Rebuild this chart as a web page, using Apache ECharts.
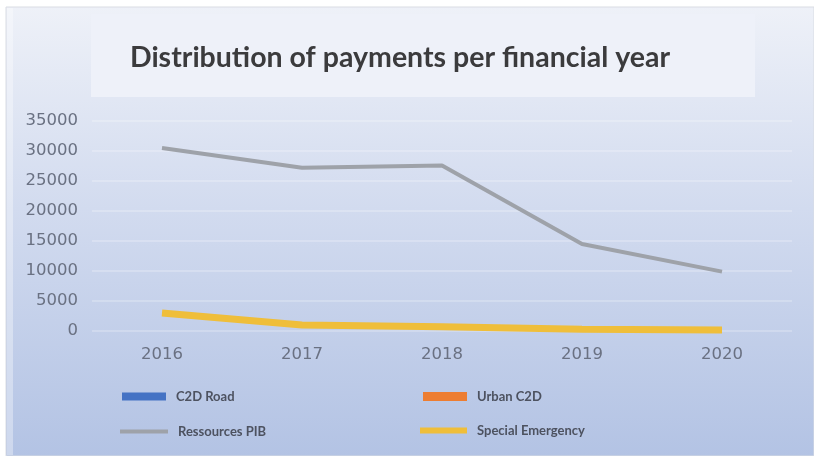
<!DOCTYPE html>
<html>
<head>
<meta charset="utf-8">
<script src="https://cdn.jsdelivr.net/npm/echarts@6/dist/echarts.min.js"></script>
<style>
  html, body { margin: 0; padding: 0; background: #ffffff; }
  #chart { width: 814px; height: 456px; }
</style>
</head>
<body>
<div id="chart"></div>
<script>
// Financial years on the category axis
const years = ['2016', '2017', '2018', '2019', '2020'];

// Payments per programme and year (C2D series carry no plotted values)
const c2dRoad = [null, null, null, null, null];
const urbanC2D = [null, null, null, null, null];
const ressourcesPIB = [30500, 27200, 27600, 14500, 9900];
const specialEmergency = [3000, 1000, 700, 300, 150];

// Value axis ticks
const yMin = 0;
const yMax = 35000;
const yStep = 5000;

const titleText = 'Distribution of payments per financial year';

const chart = echarts.init(document.getElementById('chart'), null, { renderer: 'canvas' });

const labelFont = { fontFamily: 'DejaVu Sans', fontSize: 16.5, color: '#6a7182' };
const legendText = {
  fontFamily: 'Lato', fontSize: 13, fontWeight: 'bold', color: '#4d5260',
  padding: [0, 0, 0, 5]
};

function legendAt(name, left, top, w, h) {
  return {
    data: [name],
    left: left,
    top: top,
    padding: 0,
    icon: 'rect',
    itemWidth: w,
    itemHeight: h,
    itemGap: 0,
    textStyle: legendText,
    selectedMode: false
  };
}

chart.setOption({
  animation: false,
  graphic: [
    {
      type: 'rect',
      z: -10,
      silent: true,
      shape: { x: 6, y: 7, width: 808, height: 449 },
      style: {
        fill: new echarts.graphic.LinearGradient(0, 0, 0, 1, [
          { offset: 0, color: '#eef1f8' },
          { offset: 0.45, color: '#d2dbef' },
          { offset: 1, color: '#b3c3e4' }
        ]),
        stroke: '#d9dce3',
        lineWidth: 1
      }
    },
    {
      type: 'rect',
      z: -9,
      silent: true,
      shape: { x: 7, y: 8, width: 6, height: 447 },
      style: { fill: 'rgba(255,255,255,0.35)' }
    },
    {
      type: 'rect',
      z: -8,
      silent: true,
      shape: { x: 91, y: 14, width: 664, height: 83 },
      style: { fill: '#eef1f9' }
    },
    {
      type: 'text',
      z: 10,
      style: {
        x: 400,
        y: 58,
        text: titleText,
        font: 'bold 28.5px Lato',
        fill: '#3b3b3d',
        align: 'center',
        verticalAlign: 'middle'
      }
    }
  ],
  grid: { left: 92, right: 22, top: 121, bottom: 125 },
  xAxis: {
    type: 'category',
    data: years,
    boundaryGap: true,
    axisLine: { show: false },
    axisTick: { show: false },
    axisLabel: Object.assign({ margin: 15 }, labelFont)
  },
  yAxis: {
    type: 'value',
    min: yMin,
    max: yMax,
    interval: yStep,
    axisLine: { show: false },
    axisTick: { show: false },
    axisLabel: Object.assign({ margin: 14, formatter: function (v) { return String(v); } }, labelFont),
    splitLine: { lineStyle: { color: 'rgba(255,255,255,0.3)', width: 1.5 } }
  },
  legend: [
    legendAt('C2D Road', 122, 390, 44, 8),
    legendAt('Urban C2D', 423, 390, 44, 9),
    legendAt('Ressources PIB', 120, 425, 48, 4),
    legendAt('Special Emergency', 420, 424, 47, 6)
  ],
  series: [
    {
      name: 'C2D Road',
      type: 'line',
      data: c2dRoad,
      symbol: 'none',
      color: '#4472c4',
      lineStyle: { width: 4, color: '#4472c4' },
      z: 1
    },
    {
      name: 'Urban C2D',
      type: 'line',
      data: urbanC2D,
      symbol: 'none',
      color: '#ed7d31',
      lineStyle: { width: 4, color: '#ed7d31' },
      z: 2
    },
    {
      name: 'Ressources PIB',
      type: 'line',
      data: ressourcesPIB,
      symbol: 'none',
      color: '#9ea2a9',
      lineStyle: { width: 4, color: '#9ea2a9' },
      z: 3
    },
    {
      name: 'Special Emergency',
      type: 'line',
      data: specialEmergency,
      symbol: 'none',
      color: '#efbe3a',
      lineStyle: { width: 7, color: '#efbe3a' },
      z: 4
    }
  ]
});
</script>
</body>
</html>
